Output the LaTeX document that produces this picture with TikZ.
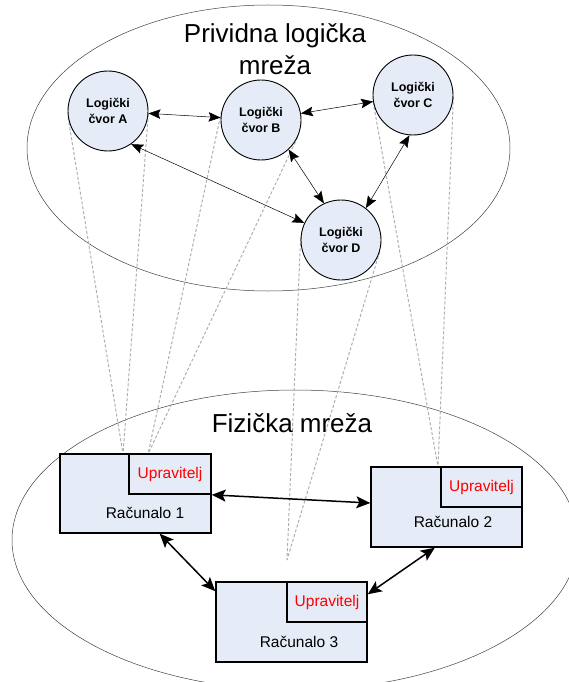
\documentclass[tikz,border=0pt]{standalone}
\usepackage{fontspec}
\setmainfont{Liberation Sans}
\usetikzlibrary{arrows.meta,calc}

\definecolor{nodefill}{RGB}{230,236,247}
\definecolor{linkgray}{RGB}{175,175,175}

\pgfdeclarelayer{background}
\pgfsetlayers{background,main}

\tikzset{
  region/.style={draw=black!75, line width=0.5pt},
  lnode/.style={circle, draw=black, line width=0.9pt, fill=nodefill,
    minimum size=80pt, inner sep=0pt, align=center,
    font=\fontsize{12.5}{16}\selectfont\bfseries},
  lpath/.style={line width=0.5pt,
    {Stealth[length=12pt,width=9.5pt,inset=2pt]}-{Stealth[length=12pt,width=9.5pt,inset=2pt]}},
  ppath/.style={line width=1.5pt,
    {Stealth[length=14pt,width=12pt,inset=3pt]}-{Stealth[length=14pt,width=12pt,inset=3pt]}},
  proj/.style={draw=linkgray, line width=1pt, dash pattern=on 3pt off 2pt},
  pcbox/.style={draw=black, line width=1.4pt, fill=nodefill, inner sep=0pt},
  mgrbox/.style={draw=black, line width=1.4pt, fill=nodefill, inner sep=0pt,
    minimum width=81pt, minimum height=40pt,
    font=\fontsize{15.5}{18}\selectfont, text=red},
  pclabel/.style={font=\fontsize{15.5}{18}\selectfont, inner sep=0pt},
  heading/.style={font=\fontsize{26}{32}\selectfont, align=center, inner sep=0pt}
}

\begin{document}
\begin{tikzpicture}[x=1pt,y=-1pt]
\useasboundingbox (0,0) rectangle (569,682);

% logical nodes
\node[lnode] (A) at (108,111) {Logički\\čvor A};
\node[lnode] (B) at (261,120) {Logički\\čvor B};
\node[lnode] (C) at (413,95) {Logički\\čvor C};
\node[lnode] (D) at (341,240) {Logički\\čvor D};

% points where the logical nodes are hosted
\coordinate (hA) at (123,454);
\coordinate (hB) at (148,454);
\coordinate (hC) at (438,467);
\coordinate (hD) at (287,560);

\begin{pgfonlayer}{background}
  % the two network layers
  \draw[region] (268.5,148) ellipse [x radius=241.5, y radius=143];
  \draw[region] (295,540) ellipse [x radius=283, y radius=150];
  % projection cones from each logical node to its host
  \foreach \n/\h in {A/hA, B/hB, C/hC, D/hD}{
    \draw[proj] (tangent cs:node=\n,point={(\h)},solution=1) -- (\h);
    \draw[proj] (tangent cs:node=\n,point={(\h)},solution=2) -- (\h);
  }
\end{pgfonlayer}

\node[heading] (title) at (275,49) {Prividna logička\\mreža};
\node[heading] (phys) at (292,423) {Fizička mreža};

% logical links
\draw[lpath] (A) -- (B);
\draw[lpath] (B) -- (C);
\draw[lpath] (A.-55) -- (D.155);
\draw[lpath] (B.-47) -- (D.115);
\draw[lpath] (C.-95) -- (D.52);

% physical computers
\node[pcbox, minimum width=151pt, minimum height=79pt] (r1) at (135.5,493.5) {};
\node[mgrbox, minimum width=82pt] (u1) at (170,474) {Upravitelj};
\node[pclabel] (t1) at (145,513) {Računalo 1};

\node[pcbox, minimum width=151pt, minimum height=80pt] (r2) at (446.5,507) {};
\node[mgrbox] (u2) at (481.5,487) {Upravitelj};
\node[pclabel] (t2) at (453,522) {Računalo 2};

\node[pcbox, minimum width=151pt, minimum height=80pt] (r3) at (291.5,622) {};
\node[mgrbox, minimum width=80pt] (u3) at (327,602) {Upravitelj};
\node[pclabel] (t3) at (299,642) {Računalo 3};

% physical links
\draw[ppath] (r1.-1) -- (r2.177);
\draw[ppath] (r1.-59) -- (r3.158);
\draw[ppath] (r3.20) -- (r2.-106);
\end{tikzpicture}
\end{document}
